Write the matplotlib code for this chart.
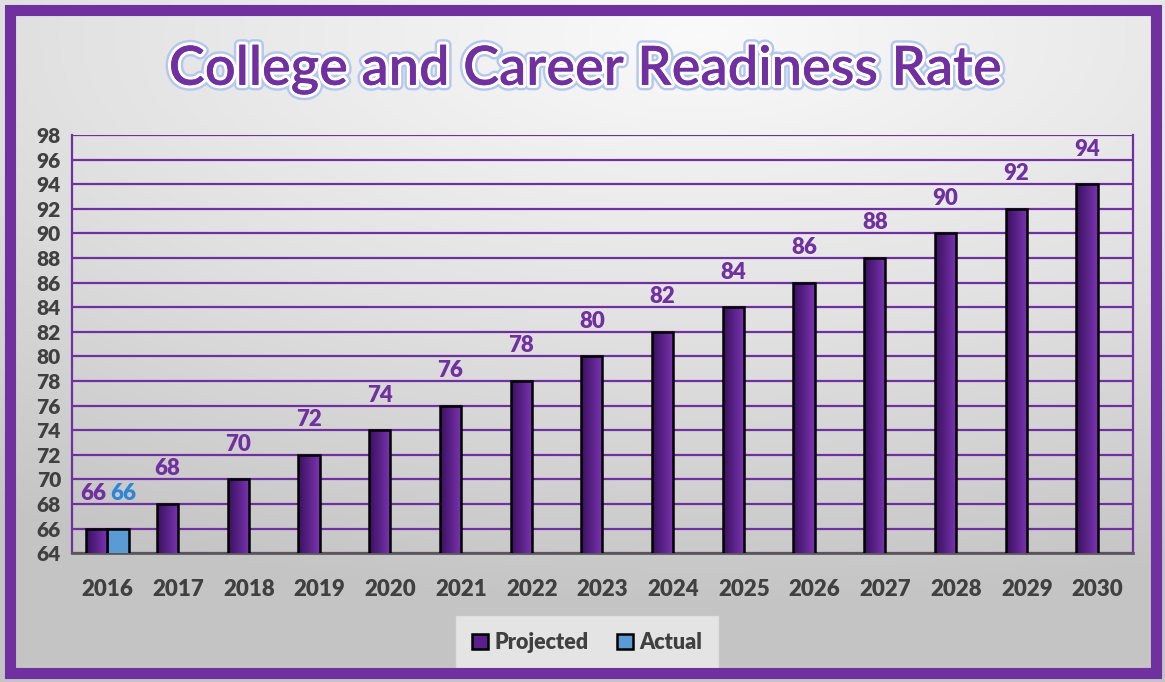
import numpy as np
import matplotlib
matplotlib.use('Agg')
import matplotlib.pyplot as plt
import matplotlib.patheffects as pe
from matplotlib.patches import Rectangle
from matplotlib.colors import LinearSegmentedColormap

years = ['2016', '2017', '2018', '2019', '2020', '2021', '2022', '2023',
         '2024', '2025', '2026', '2027', '2028', '2029', '2030']
projected = [66, 68, 70, 72, 74, 76, 78, 80, 82, 84, 86, 88, 90, 92, 94]
actual = [66] + [np.nan] * 14
yticks = list(range(64, 99, 2))

PURPLE = '#7030a0'
BLUE = '#2f86d6'
GRAY = '#404040'
FONT = ['Lato', 'DejaVu Sans']

plt.rcParams['font.family'] = FONT

fig = plt.figure(figsize=(11.65, 6.82), dpi=100)
fig.patch.set_facecolor('white')

# background gradient (light top centre, darker grey at corners)
bg = fig.add_axes([0, 0, 1, 1], zorder=-10)
yy, xx = np.mgrid[0:1:200j, 0:1:300j]
dist = np.sqrt(((xx - 0.6) * 1.0) ** 2 + ((yy - 0.05) * 1.3) ** 2)
bg_cmap = LinearSegmentedColormap.from_list('bg', ['#fafafa', '#e2e2e2', '#c4c4c4'])
bg.imshow(dist, cmap=bg_cmap, aspect='auto', extent=[0, 1, 1, 0], vmin=0, vmax=1.1)
bg.set_xlim(0, 1)
bg.set_ylim(1, 0)
bg.axis('off')

# purple frame
fig.patches.append(Rectangle((9.5 / 1165, 9.5 / 682), 1 - 19 / 1165, 1 - 19 / 682,
                             transform=fig.transFigure, fill=False,
                             edgecolor=PURPLE, linewidth=8, zorder=20))

ax = fig.add_axes([0.0618, 0.189, 0.9107, 0.613])
ax.set_facecolor('none')

x = np.arange(len(years))
w = 0.3
bars_p = ax.bar(x - w / 2, projected, w, bottom=0, color=PURPLE,
                edgecolor='black', linewidth=1.8, zorder=3, label='Projected')
bars_a = ax.bar(x + w / 2, actual, w, color='#5b9bd5',
                edgecolor='black', linewidth=1.8, zorder=3, label='Actual')

# horizontal gradient inside projected bars
bar_cmap = LinearSegmentedColormap.from_list('bar', ['#3a1060', '#7a35b0'])
grad = np.linspace(0, 1, 64).reshape(1, -1)
for b in bars_p:
    bx = b.get_x()
    im = ax.imshow(grad, cmap=bar_cmap, aspect='auto', zorder=3.5,
                   extent=[bx, bx + b.get_width(), 64, b.get_height()])
    im.set_clip_path(b)
    b.set_facecolor('none')
    b.set_zorder(4)

for xi, v in zip(x, projected):
    ax.text(xi - w / 2 - 0.05 * (xi == 0), v + 2.0, str(v), ha='center', va='bottom',
            color=PURPLE, fontsize=16, fontweight='heavy')
for xi, v in zip(x, actual):
    if not np.isnan(v):
        ax.text(xi + w / 2 + 0.07, v + 2.0, str(int(v)), ha='center', va='bottom',
                color=BLUE, fontsize=16, fontweight='heavy')

ax.set_xlim(-0.5, len(years) - 0.5)
ax.set_ylim(64, 98)
ax.set_yticks(yticks)
ax.set_xticks(x)
ax.set_xticklabels(years)
ax.tick_params(axis='x', length=0, colors=GRAY, labelsize=16, pad=19)
ax.tick_params(axis='y', length=0, colors=GRAY, labelsize=15, pad=8)
for lbl in ax.get_xticklabels() + ax.get_yticklabels():
    lbl.set_fontweight('heavy')
ax.yaxis.grid(True, color=PURPLE, linewidth=1.6, zorder=1)
ax.set_axisbelow(True)
for side in ['left', 'right', 'top']:
    ax.spines[side].set_color(PURPLE)
    ax.spines[side].set_linewidth(1.6)
ax.spines['top'].set_visible(False)
ax.spines['bottom'].set_color('#595959')
ax.spines['bottom'].set_linewidth(2)

# legend
leg = fig.legend(handles=[bars_p, bars_a], loc='center', bbox_to_anchor=(0.504, 0.058),
                 ncol=2, frameon=True, fontsize=15.5, handlelength=0.75, handleheight=0.75,
                 handletextpad=0.3, columnspacing=1.3, borderpad=0.45)
leg.get_frame().set_facecolor('#e8e8e8')
leg.get_frame().set_edgecolor('#e0e0e0')
leg.get_frame().set_alpha(0.9)
leg.get_frame().set_boxstyle('square')
for t in leg.get_texts():
    t.set_color(GRAY)
    t.set_fontweight('heavy')
leg.legend_handles[0].set_facecolor('#5a1f8a')

# title
fig.text(0.502, 0.898, 'College and Career Readiness Rate', ha='center', va='center',
         fontsize=39, color=PURPLE, fontweight='semibold',
         path_effects=[pe.withStroke(linewidth=8, foreground='#b4c8ee'),
                       pe.withStroke(linewidth=4.5, foreground='white'),
                       pe.Normal()])

fig.savefig('out.png', dpi=100)
plt.close(fig)
